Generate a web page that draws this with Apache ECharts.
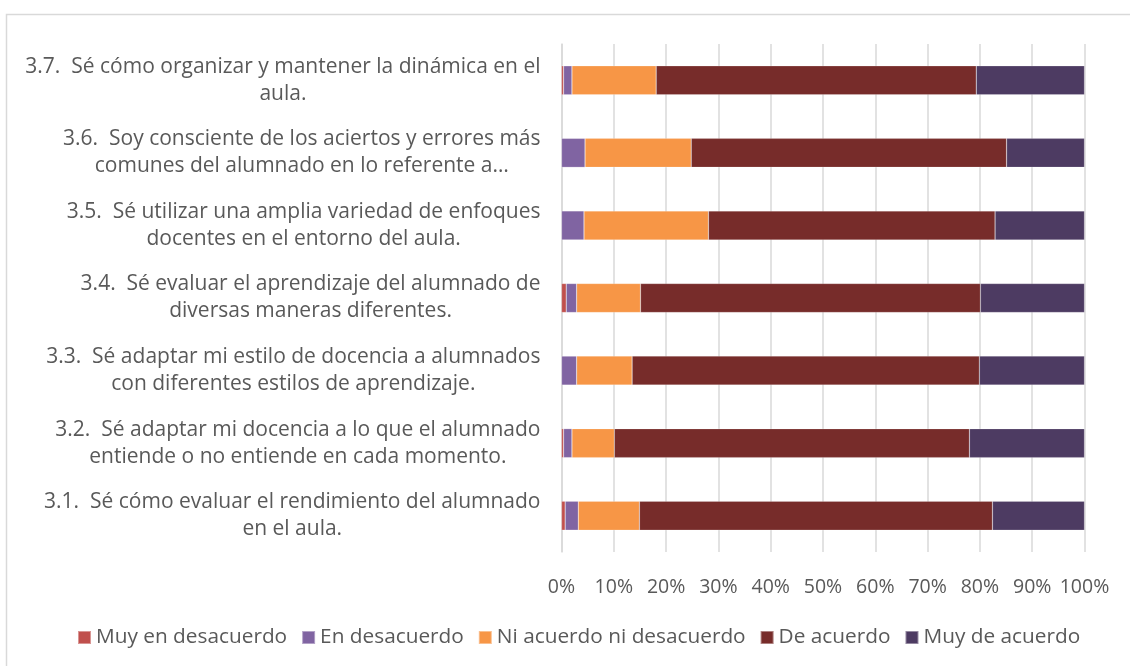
<!DOCTYPE html>
<html>
<head>
<meta charset="utf-8">
<style>
  html, body { margin: 0; padding: 0; background: #fff; }
  #chart { width: 1130px; height: 666px; }
</style>
<script src="https://cdn.jsdelivr.net/npm/echarts@6/dist/echarts.min.js"></script>
</head>
<body>
<div id="chart"></div>
<script>
// items from bottom (3.1) to top (3.7)
var categories = [
  '3.1.  Sé cómo evaluar el rendimiento del alumnado\nen el aula.',
  '3.2.  Sé adaptar mi docencia a lo que el alumnado\nentiende o no entiende en cada momento.',
  '3.3.  Sé adaptar mi estilo de docencia a alumnados\ncon diferentes estilos de aprendizaje.',
  '3.4.  Sé evaluar el aprendizaje del alumnado de\ndiversas maneras diferentes.',
  '3.5.  Sé utilizar una amplia variedad de enfoques\ndocentes en el entorno del aula.',
  '3.6.  Soy consciente de los aciertos y errores más\ncomunes del alumnado en lo referente a…',
  '3.7.  Sé cómo organizar y mantener la dinámica en el\naula.'
];
var seriesNames = ['Muy en desacuerdo', 'En desacuerdo', 'Ni acuerdo ni desacuerdo', 'De acuerdo', 'Muy de acuerdo'];
var muyDesacuerdo = [0.7, 0.4, 0, 0.9, 0, 0, 0.4];
var desacuerdo    = [2.5, 1.6, 2.9, 2.0, 4.3, 4.5, 1.6];
var niNi          = [11.7, 8.1, 10.6, 12.2, 23.8, 20.3, 16.1];
var deAcuerdo     = [67.5, 67.9, 66.4, 65.0, 54.8, 60.3, 61.2];
var muyAcuerdo    = [17.6, 22.0, 20.1, 19.9, 17.1, 14.9, 20.7];
var colors = ['#C0504D', '#8064A2', '#F79646', '#772C2A', '#4D3B62'];

var dom = document.getElementById('chart');
var myChart = echarts.init(dom);
var allData = [muyDesacuerdo, desacuerdo, niNi, deAcuerdo, muyAcuerdo];
var series = [];
for (var i = 0; i < seriesNames.length; i++) {
  series.push({
    name: seriesNames[i],
    type: 'bar',
    stack: 'total',
    barWidth: 29,
    data: allData[i],
    itemStyle: { color: colors[i], borderColor: 'rgba(255,255,255,0.4)', borderWidth: 0.5 }
  });
}
var font = '"Open Sans", Lato, sans-serif';
var option = {
  animation: false,
  color: colors,
  textStyle: { fontFamily: font },
  graphic: [{
    type: 'rect',
    shape: { x: 6.5, y: 14.5, width: 1140, height: 670 },
    style: { fill: 'none', stroke: '#d9d9d9', lineWidth: 1.5 }
  }],
  grid: { left: 561.5, right: 45.5, top: 44, bottom: 114, containLabel: false },
  legend: {
    data: seriesNames,
    bottom: 13,
    left: 72,
    icon: 'rect',
    itemWidth: 13,
    itemHeight: 13,
    itemGap: 14,
    textStyle: { color: '#595959', fontSize: 20.8, fontFamily: font }
  },
  xAxis: {
    type: 'value',
    min: 0,
    max: 100,
    interval: 10,
    axisLine: { show: false },
    axisTick: { show: false },
    splitLine: { lineStyle: { color: '#d9d9d9', width: 1.5 } },
    axisLabel: {
      color: '#595959', fontSize: 19.5, margin: 25, fontFamily: font,
      formatter: function (v) { return v + '%'; }
    }
  },
  yAxis: {
    type: 'category',
    data: categories,
    axisLine: { show: true, lineStyle: { color: '#d9d9d9', width: 1.5 } },
    axisTick: { show: false },
    axisLabel: {
      margin: 21,
      align: 'right',
      color: '#595959',
      fontSize: 21,
      lineHeight: 27,
      fontFamily: font,
      formatter: function (v) {
        return v.split('\n').map(function (s) { return '{c|' + s + '}'; }).join('\n');
      },
      rich: {
        c: { align: 'center', color: '#595959', fontSize: 21, lineHeight: 27, fontFamily: font }
      }
    }
  },
  series: series
};
myChart.setOption(option, true);
</script>
</body>
</html>
